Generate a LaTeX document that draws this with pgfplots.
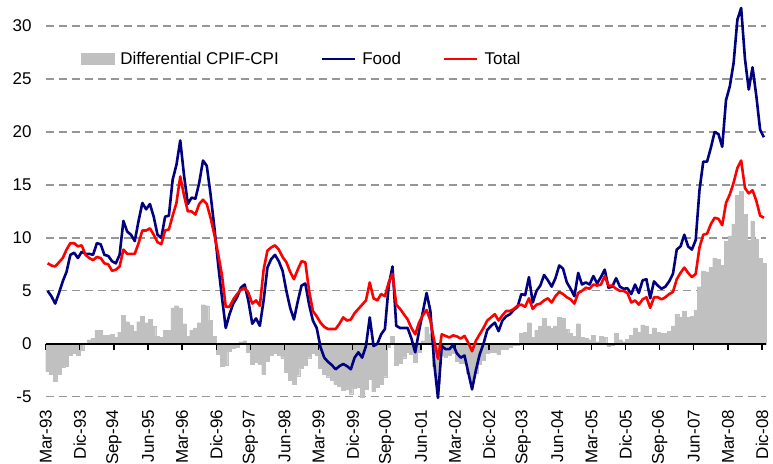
\documentclass[border=0pt]{standalone}
\usepackage{fontspec}
\setmainfont{Liberation Sans}
\usepackage{pgfplots}
\pgfplotsset{compat=1.18}
\usepackage{pgfplotstable}
\definecolor{foodblue}{RGB}{0,0,128}
\definecolor{totalred}{RGB}{255,0,0}
\definecolor{barfill}{RGB}{192,192,192}
\definecolor{gridgray}{RGB}{150,150,150}
\pgfplotstableread{
i F T D
0 5.0 7.6 -2.6
1 4.5 7.4 -2.9
2 3.8 7.3 -3.5
3 4.8 7.7 -2.9
4 5.9 8.1 -2.2
5 6.8 8.9 -2.1
6 8.4 9.5 -1.1
7 8.6 9.5 -0.9
8 8.1 9.2 -1.1
9 8.7 9.3 -0.6
10 8.5 8.4 0.1
11 8.5 8.1 0.4
12 8.4 7.9 0.5
13 9.5 8.2 1.3
14 9.4 8.1 1.3
15 8.4 7.6 0.8
16 8.3 7.5 0.8
17 7.8 6.9 0.9
18 7.6 7.0 0.6
19 8.4 7.3 1.1
20 11.6 8.9 2.7
21 10.6 8.5 2.1
22 10.3 8.5 1.8
23 9.7 8.5 1.2
24 11.6 9.5 2.1
25 13.3 10.7 2.6
26 12.7 10.7 2.0
27 13.2 10.9 2.3
28 12.0 10.3 1.7
29 10.3 9.6 0.7
30 10.0 9.4 0.6
31 12.0 10.7 1.3
32 12.1 10.8 1.3
33 15.5 12.1 3.4
34 16.9 13.3 3.6
35 19.2 15.8 3.4
36 15.9 14.0 1.9
37 13.2 12.5 0.7
38 13.8 12.5 1.3
39 13.7 12.2 1.5
40 15.2 13.2 2.0
41 17.3 13.6 3.7
42 16.8 13.2 3.6
43 14.1 11.9 2.2
44 11.0 10.3 0.7
45 7.5 8.5 -1.0
46 4.4 6.5 -2.1
47 1.5 3.5 -2.0
48 2.8 3.5 -0.7
49 3.8 4.2 -0.4
50 4.4 4.7 -0.3
51 5.3 5.1 0.2
52 5.6 5.3 0.3
53 4.0 4.8 -0.8
54 1.9 3.8 -1.9
55 2.4 4.1 -1.7
56 1.7 3.6 -1.9
57 4.1 7.0 -2.9
58 7.2 8.8 -1.6
59 8.0 9.1 -1.1
60 8.4 9.3 -0.9
61 7.8 8.9 -1.1
62 6.9 8.2 -1.3
63 5.0 7.7 -2.7
64 3.4 6.8 -3.4
65 2.3 6.1 -3.8
66 4.0 7.0 -3.0
67 5.5 7.8 -2.3
68 5.7 7.7 -2.0
69 3.7 5.0 -1.3
70 2.2 3.1 -0.9
71 1.5 2.6 -1.1
72 -0.3 2.0 -2.3
73 -1.3 1.6 -2.9
74 -1.7 1.4 -3.1
75 -2.0 1.4 -3.4
76 -2.4 1.4 -3.8
77 -2.1 1.9 -4.0
78 -1.9 2.5 -4.4
79 -2.1 2.2 -4.3
80 -2.4 2.3 -4.7
81 -1.3 2.9 -4.2
82 -0.8 3.3 -4.1
83 -1.3 3.7 -5.0
84 -0.2 4.1 -4.3
85 2.5 5.8 -3.3
86 -0.2 4.3 -4.5
87 0.0 4.1 -4.1
88 0.9 4.7 -3.8
89 1.4 4.5 -3.1
90 5.5 5.8 -0.3
91 7.3 6.6 0.7
92 1.7 3.7 -2.0
93 1.5 3.3 -1.8
94 1.5 2.8 -1.3
95 1.5 2.3 -0.8
96 0.5 1.5 -1.0
97 -0.8 0.9 -1.7
98 1.2 2.0 -0.8
99 3.0 2.7 0.3
100 4.8 3.2 1.6
101 3.1 2.2 0.9
102 -1.8 0.3 -2.1
103 -5.1 -1.4 -3.7
104 -0.2 0.9 -1.1
105 -0.5 0.75 -1.25
106 -0.5 0.6 -1.1
107 -0.1 0.8 -0.9
108 -0.9 0.7 -1.6
109 -1.3 0.5 -1.8
110 -1.1 0.75 -1.85
111 -2.7 0.1 -2.8
112 -4.3 -0.7 -3.6
113 -2.5 0.3 -2.8
114 -1.0 0.9 -1.9
115 0.0 1.5 -1.5
116 1.3 2.2 -0.9
117 1.7 2.5 -0.8
118 2.0 2.8 -0.8
119 1.2 2.2 -1.0
120 2.2 2.7 -0.5
121 2.6 3.1 -0.5
122 2.8 3.1 -0.3
123 3.2 3.3 -0.1
124 3.5 3.6 -0.1
125 4.7 3.7 1.0
126 4.6 3.5 1.1
127 6.3 4.3 2.0
128 3.9 3.3 0.6
129 5.0 3.7 1.3
130 5.5 3.8 1.7
131 6.5 4.1 2.4
132 6.0 4.3 1.7
133 5.4 3.9 1.5
134 6.2 4.5 1.7
135 7.4 4.9 2.5
136 7.1 4.7 2.4
137 5.8 4.4 1.4
138 5.2 4.2 1.0
139 4.5 3.8 0.7
140 6.7 4.8 1.9
141 5.6 5.0 0.6
142 5.8 5.3 0.5
143 5.6 5.2 0.4
144 6.4 5.6 0.8
145 5.7 5.5 0.2
146 6.3 5.6 0.7
147 7.0 6.4 0.6
148 5.3 5.5 -0.2
149 5.4 5.5 -0.1
150 6.2 5.2 1.0
151 5.4 5.0 0.4
152 5.2 5.0 0.2
153 5.25 4.8 0.45
154 4.7 3.9 0.8
155 5.6 4.1 1.5
156 4.8 3.7 1.1
157 6.0 4.2 1.8
158 6.1 4.4 1.7
159 4.3 3.4 0.9
160 5.9 4.4 1.5
161 5.5 4.4 1.1
162 5.2 4.2 1.0
163 5.4 4.4 1.0
164 5.9 4.7 1.2
165 6.6 4.9 1.7
166 8.9 6.1 2.8
167 9.2 6.7 2.5
168 10.3 7.2 3.1
169 9.2 6.7 2.5
170 8.9 6.3 2.6
171 9.8 6.6 3.2
172 14.5 9.1 5.4
173 17.2 10.3 6.9
174 17.2 10.4 6.8
175 18.5 11.3 7.2
176 20.0 11.9 8.1
177 19.8 11.8 8.0
178 18.6 11.2 7.4
179 23.0 13.3 9.7
180 24.3 14.1 10.2
181 26.5 15.2 11.3
182 30.6 16.6 14.0
183 31.7 17.3 14.4
184 26.9 14.7 12.2
185 24.0 14.2 9.8
186 26.1 14.5 11.6
187 23.4 13.5 9.9
188 20.2 12.1 8.1
189 19.5 11.9 7.6
}\data
\begin{document}
\begin{tikzpicture}
\begin{axis}[
  name=ax,
  scale only axis, width=720pt, height=392pt,
  xmin=0, xmax=190, ymin=-5, ymax=32,
  clip=false,
  axis line style={draw=none},
  major tick length=0pt,
  xtick={0,9,...,189},
  xticklabels={Mar-93,Dic-93,Sep-94,Jun-95,Mar-96,Dic-96,Sep-97,Jun-98,Mar-99,Dic-99,Sep-00,Jun-01,Mar-02,Dic-02,Sep-03,Jun-04,Mar-05,Dic-05,Sep-06,Jun-07,Mar-08,Dic-08},
  xticklabel style={rotate=90, anchor=east, inner sep=0pt, font=\fontsize{17}{17}\selectfont},
  xticklabel shift=13pt,
  ytick={-5,0,5,10,15,20,25,30},
  yticklabels={-5,0,5,10,15,20,25,30},
  yticklabel style={anchor=east, inner sep=0pt, font=\fontsize{17}{17}\selectfont},
  yticklabel shift=14pt,
  ymajorgrids,
  grid style={dash pattern=on 8pt off 5pt, line width=1.2pt, color=gridgray},
  legend columns=3,
  legend style={draw=none, fill=none, at={(0.049,0.862)}, anchor=west, inner sep=0pt,
    font=\fontsize{17}{17}\selectfont, legend cell align=left,
    /tikz/every even column/.append style={column sep=40pt}},
]
\addplot[ybar, bar width=1, bar shift=0pt, fill=barfill, draw=barfill, line width=0.2pt,
  legend image code/.code={\fill[barfill] (0pt,-5.5pt) rectangle (33pt,5.5pt); \path (37pt,0pt);}]
  table[x expr=\thisrow{i}+0.5, y=D]{\data};
\addlegendentry{Differential CPIF-CPI}
\draw[black, line width=1.3pt] (axis cs:0,0) -- (axis cs:190,0);
\pgfplotsinvokeforeach{0,9,...,189}{\draw[black, line width=1.3pt] (axis cs:#1,0) -- ++(0pt,-6pt);}
\addplot[foodblue, line width=2.6pt, line join=round, no marks,
  legend image code/.code={\draw[foodblue, line width=2.4pt] (0pt,0pt) -- (33pt,0pt); \path (37pt,0pt);}]
  table[x expr=\thisrow{i}+0.5, y=F]{\data};
\addlegendentry{Food}
\addplot[totalred, line width=2.6pt, line join=round, no marks,
  legend image code/.code={\draw[totalred, line width=2.4pt] (0pt,0pt) -- (33pt,0pt); \path (37pt,0pt);}]
  table[x expr=\thisrow{i}+0.5, y=T]{\data};
\addlegendentry{Total}
\end{axis}
\pgfresetboundingbox
\path ([xshift=-45.7pt,yshift=-67pt]ax.south west) rectangle ([xshift=7.2pt,yshift=4.8pt]ax.north east);
\end{tikzpicture}
\end{document}
